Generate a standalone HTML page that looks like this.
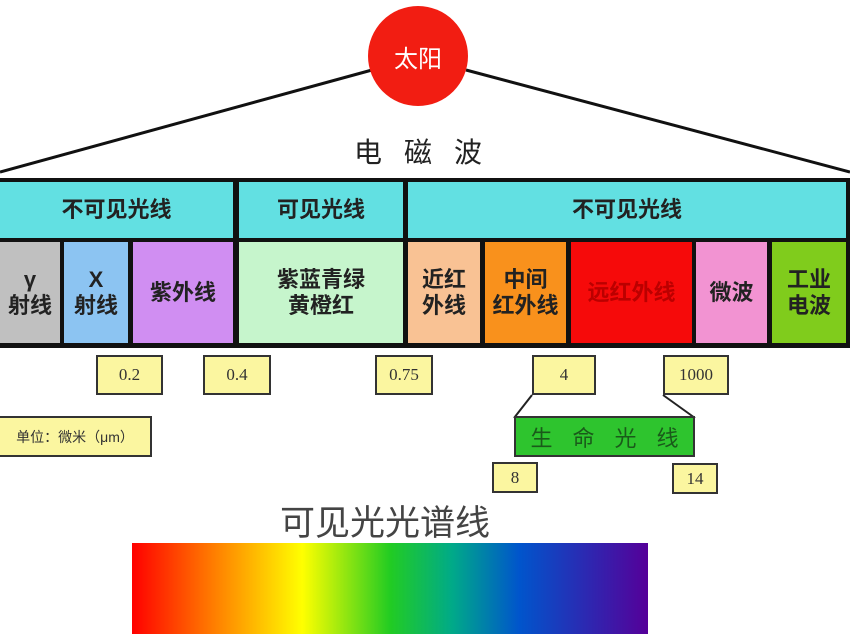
<!DOCTYPE html>
<html><head><meta charset="utf-8"><style>
body{margin:0;width:850px;height:634px;background:#fff;position:relative;overflow:hidden;font-family:"Liberation Sans","Noto Sans CJK SC",sans-serif}
.a{position:absolute;box-sizing:border-box;display:flex;align-items:center;justify-content:center;text-align:center;white-space:nowrap}
.c{font-size:22px;color:#222;line-height:26px;font-weight:bold}
.y{background:#fbf6a0;border:2px solid #333;font-family:"Liberation Serif","Noto Serif CJK SC",serif;font-size:17px;color:#333}
</style></head><body>
<svg class="a" style="left:0;top:0" width="850" height="634">
<line x1="0" y1="172" x2="372" y2="70" stroke="#111" stroke-width="3"/>
<line x1="466" y1="70" x2="850" y2="172" stroke="#111" stroke-width="3"/>
<line x1="532" y1="395" x2="514" y2="418" stroke="#222" stroke-width="2"/>
<line x1="663" y1="395" x2="695" y2="418" stroke="#222" stroke-width="2"/>
<defs><linearGradient id="g" x1="0" x2="1"><stop offset="0" stop-color="#f00"/><stop offset=".15" stop-color="#f70"/><stop offset=".33" stop-color="#ff0"/><stop offset=".5" stop-color="#2c2"/><stop offset=".62" stop-color="#0a8"/><stop offset=".75" stop-color="#05c"/><stop offset="1" stop-color="#509"/></linearGradient></defs>
<rect x="132" y="543" width="516" height="91" fill="url(#g)"/>
</svg>
<div class="a" style="left:368px;top:6px;width:100px;height:100px;border-radius:50%;background:#f21d12;color:#fff;font-size:24px">太阳</div>
<div class="a" style="left:318px;top:134px;width:200px;height:34px;font-size:28px;color:#222;letter-spacing:22px;padding-left:22px">电磁波</div>
<div class="a" style="left:-4px;top:178px;width:854px;height:170px;background:#111"></div>
<div class="a c" style="left:0;top:182px;width:233px;height:56px;background:#62e0e2">不可见光线</div>
<div class="a c" style="left:239px;top:182px;width:164px;height:56px;background:#62e0e2">可见光线</div>
<div class="a c" style="left:408px;top:182px;width:438px;height:56px;background:#62e0e2">不可见光线</div>
<div class="a c" style="left:0;top:242px;width:60px;height:101px;background:#c0c0c0">γ<br>射线</div>
<div class="a c" style="left:64px;top:242px;width:64px;height:101px;background:#8cc4f2">X<br>射线</div>
<div class="a c" style="left:133px;top:242px;width:100px;height:101px;background:#d08ef2">紫外线</div>
<div class="a c" style="left:239px;top:242px;width:164px;height:101px;background:#c6f5cc">紫蓝青绿<br>黄橙红</div>
<div class="a c" style="left:408px;top:242px;width:72px;height:101px;background:#f9c294">近红<br>外线</div>
<div class="a c" style="left:485px;top:242px;width:81px;height:101px;background:#f9911c">中间<br>红外线</div>
<div class="a c" style="left:571px;top:242px;width:121px;height:101px;background:#f60a0a;color:#b00">远红外线</div>
<div class="a c" style="left:696px;top:242px;width:71px;height:101px;background:#f293d2">微波</div>
<div class="a c" style="left:772px;top:242px;width:74px;height:101px;background:#80cc1c">工业<br>电波</div>
<div class="a y" style="left:96px;top:355px;width:67px;height:40px">0.2</div>
<div class="a y" style="left:203px;top:355px;width:68px;height:40px">0.4</div>
<div class="a y" style="left:375px;top:355px;width:58px;height:40px">0.75</div>
<div class="a y" style="left:532px;top:355px;width:64px;height:40px">4</div>
<div class="a y" style="left:663px;top:355px;width:66px;height:40px">1000</div>
<div class="a y" style="left:-2px;top:416px;width:154px;height:41px;font-family:'Liberation Sans','Noto Sans CJK SC',sans-serif;font-size:14px">单位：微米（μm）</div>
<div class="a" style="left:514px;top:416px;width:181px;height:41px;background:#2ec42e;border:2px solid #333;font-size:22px;color:#1a5a1a;letter-spacing:20px;padding-left:20px">生命光线</div>
<div class="a y" style="left:492px;top:462px;width:46px;height:31px">8</div>
<div class="a y" style="left:672px;top:463px;width:46px;height:31px">14</div>
<div class="a" style="left:260px;top:500px;width:250px;height:40px;font-size:35px;color:#444">可见光光谱线</div>
</body></html>
